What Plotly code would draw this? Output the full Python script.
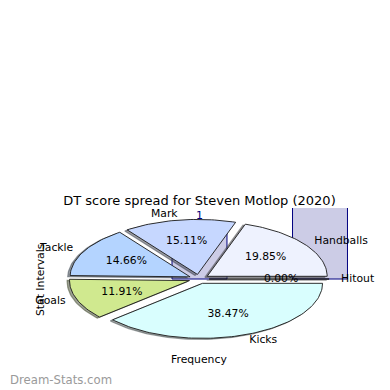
import numpy as np
import plotly.graph_objects as go

# ---- data ----
slice_labels = ["Hitout", "Handballs", "Mark", "Tackle", "Goals", "Kicks"]
slice_shares = [0.00, 19.85, 15.11, 14.66, 11.91, 38.47]
slice_colors = ["#d0d0d0", "#eef2fe", "#c6d7ff", "#b4d4ff", "#d0e98f", "#d9fefe"]

bar_bins = [1, 2]
bar_freq = [3.0, 5.0]
bar_ticks = ["1"]

title_text = "DT score spread for Steven Motlop (2020)"

# ---- style / geometry ----
FONT = "DejaVu Sans"
EXPLODE = 0.084
LABEL_DIST = 1.1
PCT_DIST = 0.6
SHADOW_OFF = (-0.02, -0.02)
W = H = 390
OFF = 8            # page offset of the figure inside the browser window
CX, CY = 199, 279  # pie centre (window pixels)
RX, RY = 120, 55   # pie radii (pixels)
TOP = 208          # top of plotting area (window pixels)


def px(X):
    return (X - OFF) / W


def py(Y):
    return 1 - (Y - OFF) / H


fig = go.Figure()

# background histogram (drawn first -> behind the pie)
fig.add_trace(go.Bar(
    x=bar_bins, y=bar_freq, width=0.456,
    marker=dict(color="#ccccE6", line=dict(color="#000080", width=1)),
    xaxis="x", yaxis="y", hoverinfo="skip", showlegend=False,
))


def hex_rgb(h):
    h = h.lstrip("#")
    return tuple(int(h[i:i + 2], 16) for i in (0, 2, 4))


total = sum(slice_shares)
angles = []
start = 0.0
for v in slice_shares:
    span = 360.0 * v / total
    angles.append((start, start + span))
    start += span


def wedge(t1, t2, dx, dy):
    n = max(2, int(abs(t2 - t1) / 1.5) + 2)
    th = np.radians(np.linspace(t1, t2, n))
    xs = np.concatenate([[dx], dx + np.cos(th), [dx]])
    ys = np.concatenate([[dy], dy + np.sin(th), [dy]])
    return xs, ys


# shadows
for (t1, t2), col in zip(angles, slice_colors):
    mid = np.radians((t1 + t2) / 2)
    dx, dy = EXPLODE * np.cos(mid), EXPLODE * np.sin(mid)
    xs, ys = wedge(t1, t2, dx + SHADOW_OFF[0], dy + SHADOW_OFF[1])
    r, g, b = hex_rgb(col)
    sc = f"rgba({int(0.3*r)},{int(0.3*g)},{int(0.3*b)},0.5)"
    fig.add_trace(go.Scatter(
        x=xs, y=ys, mode="lines", fill="toself", fillcolor=sc,
        line=dict(color=sc, width=1.2), xaxis="x2", yaxis="y2",
        hoverinfo="skip", showlegend=False))

# wedges
for (t1, t2), col in zip(angles, slice_colors):
    mid = np.radians((t1 + t2) / 2)
    dx, dy = EXPLODE * np.cos(mid), EXPLODE * np.sin(mid)
    xs, ys = wedge(t1, t2, dx, dy)
    fig.add_trace(go.Scatter(
        x=xs, y=ys, mode="lines", fill="toself", fillcolor=col,
        line=dict(color="#1a1a1a", width=0.9), xaxis="x2", yaxis="y2",
        hoverinfo="skip", showlegend=False))

# labels and percentages
for (t1, t2), lab, v in zip(angles, slice_labels, slice_shares):
    mid = np.radians((t1 + t2) / 2)
    dx, dy = EXPLODE * np.cos(mid), EXPLODE * np.sin(mid)
    lx = dx + LABEL_DIST * np.cos(mid)
    ly = dy + LABEL_DIST * np.sin(mid)
    pos = "middle right" if lx > 0 else "middle left"
    fig.add_trace(go.Scatter(
        x=[lx], y=[ly], mode="text", text=[lab], textposition=pos,
        textfont=dict(family=FONT, size=10.8, color="black"),
        xaxis="x2", yaxis="y2", hoverinfo="skip", showlegend=False,
        cliponaxis=False))
    pxx = dx + PCT_DIST * np.cos(mid)
    pyy = dy + PCT_DIST * np.sin(mid)
    fig.add_trace(go.Scatter(
        x=[pxx], y=[pyy], mode="text", text=[f"{v:.2f}%"],
        textposition="middle center",
        textfont=dict(family=FONT, size=10.8, color="black"),
        xaxis="x2", yaxis="y2", hoverinfo="skip", showlegend=False,
        cliponaxis=False))

# axis ranges derived from the pixel geometry
ydom = [0, py(TOP)]
pie_x = [-(CX - OFF) / RX, (W + OFF - CX) / RX]
pie_y = [-(H + OFF - CY) / RY, (CY - TOP) / RY]
BAR_PX = 120.5   # pixels per bin on x
BAR_PY = 17.3    # pixels per count on y
BAR_C1 = 199.5   # pixel centre of first bin
bx0 = bar_bins[0] - (BAR_C1 - OFF) / BAR_PX
bar_x = [bx0, bx0 + W / BAR_PX]
bar_y = [-(H + OFF - CY) / BAR_PY, (CY - TOP) / BAR_PY]

fig.update_layout(
    width=W, height=H, autosize=False,
    margin=dict(l=0, r=0, t=0, b=0),
    paper_bgcolor="white", plot_bgcolor="rgba(0,0,0,0)",
    xaxis=dict(domain=[0, 1], range=bar_x, side="top",
               tickvals=bar_bins[:1], ticktext=bar_ticks,
               ticklabelposition="inside", ticks="",
               tickfont=dict(family=FONT, size=11, color="#000080"),
               showgrid=False, zeroline=False, showline=False),
    yaxis=dict(domain=ydom, range=bar_y, visible=False),
    xaxis2=dict(overlaying="x", range=pie_x, visible=False),
    yaxis2=dict(overlaying="y", range=pie_y, visible=False),
    title=dict(text=title_text, x=px(199.5), xanchor="center",
               y=py(200), yanchor="middle",
               font=dict(family=FONT, size=13, color="black")),
    annotations=[
        dict(text="Frequency", x=px(199), y=py(359),
             xref="paper", yref="paper", xanchor="center", yanchor="middle",
             showarrow=False,
             font=dict(family=FONT, size=10.8, color="black")),
        dict(text="Stat Intervals", x=px(40), y=py(280),
             xref="paper", yref="paper", xanchor="center", yanchor="middle",
             showarrow=False, textangle=-90,
             font=dict(family=FONT, size=10.8, color="black")),
        dict(text="Dream-Stats.com", x=0, y=py(380),
             xref="paper", yref="paper", xanchor="left", yanchor="middle",
             showarrow=False,
             font=dict(family=FONT, size=11.7, color="#9a9a9a")),
    ],
)

fig.write_html("out.html")
